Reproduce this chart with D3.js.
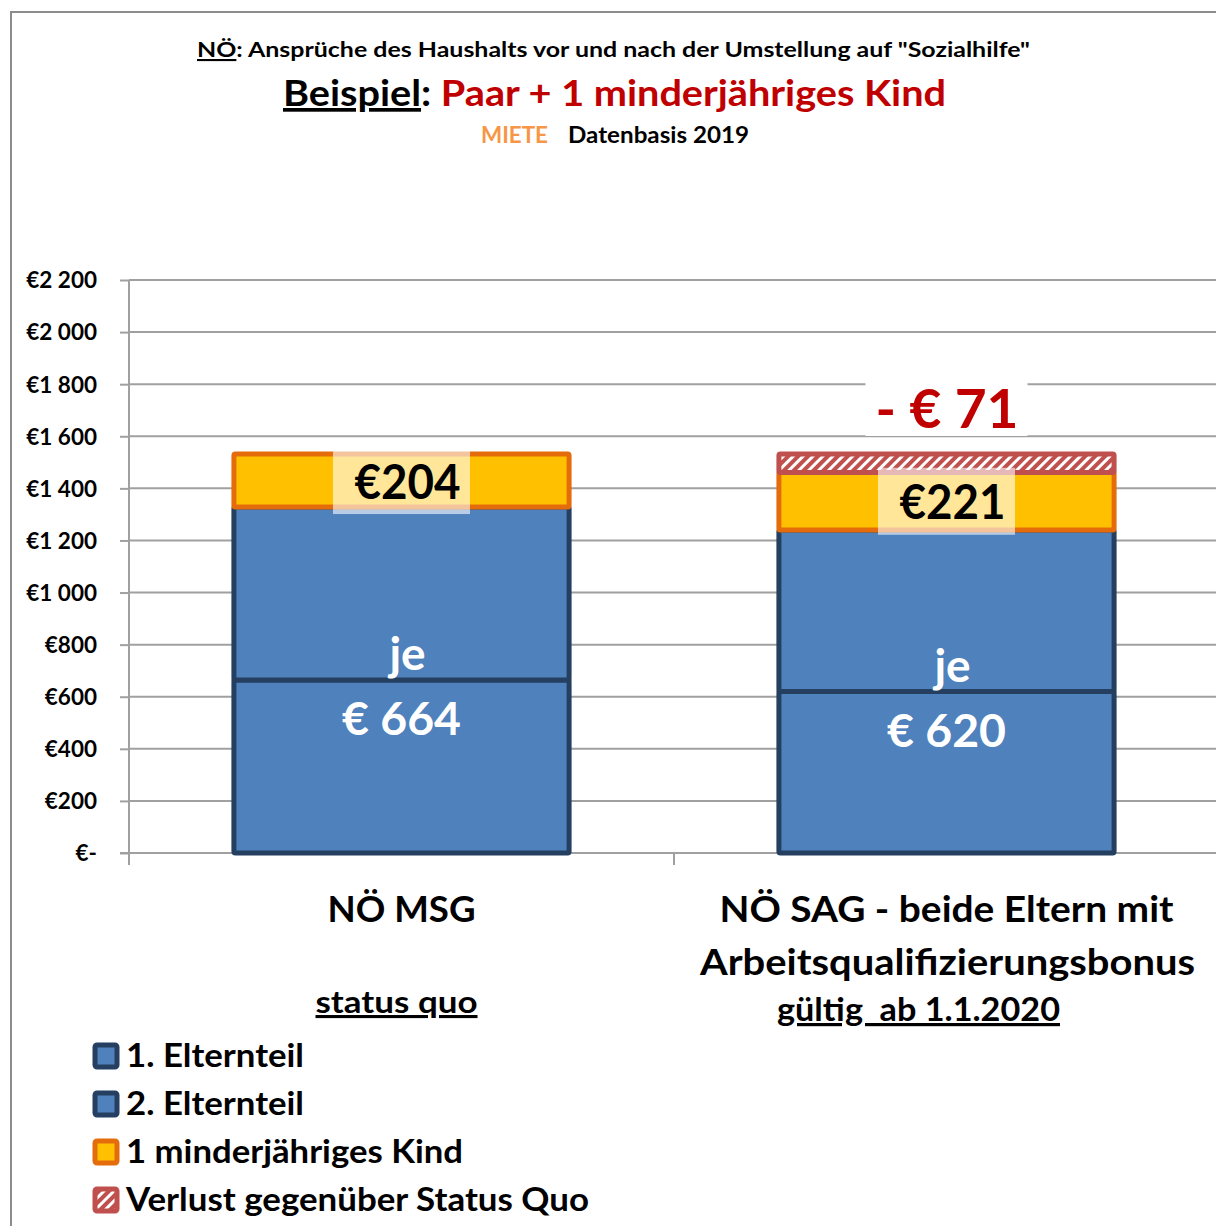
<!DOCTYPE html>
<html>
<head>
<meta charset="utf-8">
<script src="https://cdn.jsdelivr.net/npm/d3@7"></script>
<style>
  body { margin: 0; background: #fff; }
  svg text { font-family: Lato, "Open Sans", sans-serif; font-weight: bold; }
</style>
</head>
<body>
<div id="chart"></div>
<script>
// values
const categories = ["NÖ MSG", "NÖ SAG"];
const parent1 = [664, 620];
const parent2 = [664, 620];
const child = [204, 221];
const loss = [0, 71];
const lossLabels = ["", "- € 71"];
const yTicks = [0, 200, 400, 600, 800, 1000, 1200, 1400, 1600, 1800, 2000, 2200];
const legendLabels = ["1. Elternteil", "2. Elternteil", "1 minderjähriges Kind", "Verlust gegenüber Status Quo"];

const W = 1216, H = 1226;
const BLUE = "#4f81bd", NAVY = "#243f60", GOLD = "#ffc000", ORANGE = "#e46c0a", RED = "#c0504d";

const rows = categories.map((c, i) => ({
  cat: c, p1: parent1[i], p2: parent2[i], kid: child[i], loss: loss[i]
}));
const keys = ["p1", "p2", "kid", "loss"];
const fills = { p1: BLUE, p2: BLUE, kid: GOLD, loss: "url(#hatch)" };
const strokes = { p1: NAVY, p2: NAVY, kid: ORANGE, loss: RED };

const svg = d3.select("#chart").append("svg")
    .attr("width", W).attr("height", H);

const defs = svg.append("defs");
const pat = defs.append("pattern")
    .attr("id", "hatch")
    .attr("patternUnits", "userSpaceOnUse")
    .attr("width", 7).attr("height", 7)
    .attr("patternTransform", "rotate(45)");
pat.append("rect").attr("width", 7).attr("height", 7).attr("fill", RED);
pat.append("rect").attr("x", 0).attr("width", 3).attr("height", 7).attr("fill", "#fff");

// outer frame of the chart area
svg.append("rect")
    .attr("x", 11).attr("y", 12)
    .attr("width", W + 20).attr("height", H + 20)
    .attr("fill", "none").attr("stroke", "#8c8c8c").attr("stroke-width", 2);

const x = d3.scaleBand().domain(categories).range([129, 1219]).padding(0);
const y = d3.scaleLinear().domain([0, 2200]).range([853, 280]);
const barW = x.bandwidth() * 0.615;

const fit = (sel, w) => sel.attr("textLength", w).attr("lengthAdjust", "spacingAndGlyphs");

// gridlines
svg.append("g").selectAll("line")
    .data(yTicks.filter(d => d > 0))
    .join("line")
    .attr("x1", 129).attr("x2", W)
    .attr("y1", d => y(d)).attr("y2", d => y(d))
    .attr("stroke", "#a0a0a0").attr("stroke-width", 2);

// y axis
const loc = d3.formatLocale({ decimal: ",", thousands: " ", grouping: [3], currency: ["€", ""] });
const fmt = loc.format("$,");
const yAxis = d3.axisLeft(y).tickValues(yTicks).tickSize(9).tickPadding(23)
    .tickFormat(d => d === 0 ? "€-" : fmt(d));
const gy = svg.append("g").attr("transform", "translate(129,0)").call(yAxis);
gy.select(".domain").remove();
gy.selectAll(".tick line").attr("stroke", "#a0a0a0").attr("stroke-width", 2);
gy.selectAll(".tick text").attr("font-size", 22.5).attr("fill", "#000")
    .attr("font-family", "Lato, sans-serif").attr("font-weight", "900").attr("dy", "0.35em");
svg.append("line")
    .attr("x1", 129).attr("x2", 129).attr("y1", y(2200)).attr("y2", y(0) + 12)
    .attr("stroke", "#a0a0a0").attr("stroke-width", 2);

// x axis line and category boundary ticks
svg.append("line")
    .attr("x1", 120).attr("x2", W).attr("y1", y(0)).attr("y2", y(0))
    .attr("stroke", "#a0a0a0").attr("stroke-width", 2);
svg.append("g").selectAll("line")
    .data(categories)
    .join("line")
    .attr("x1", d => x(d)).attr("x2", d => x(d))
    .attr("y1", y(0)).attr("y2", y(0) + 12)
    .attr("stroke", "#a0a0a0").attr("stroke-width", 2);

// stacked bars
const series = d3.stack().keys(keys)(rows);
const bars = svg.append("g");
series.forEach(s => {
  bars.selectAll(null)
    .data(s.filter(d => d[1] - d[0] > 0))
    .join("rect")
    .attr("x", d => x(d.data.cat) + (x.bandwidth() - barW) / 2)
    .attr("width", barW)
    .attr("y", d => y(d[1]))
    .attr("height", d => y(d[0]) - y(d[1]))
    .attr("fill", fills[s.key])
    .attr("stroke", strokes[s.key])
    .attr("stroke-width", 5)
    .attr("rx", 1.5);
});

const cx = d => x(d.cat) + x.bandwidth() / 2;

// "je / € ..." labels for the parents
const pl = svg.append("g").attr("fill", "#fff");
pl.selectAll(".je").data(rows).join("text")
    .attr("x", d => cx(d) + 6).attr("y", d => y(d.p1) - 10)
    .attr("text-anchor", "middle").attr("font-size", 46)
    .text("je");
pl.selectAll(".amt").data(rows).join("text")
    .attr("x", d => cx(d)).attr("y", d => y(d.p1) + 55)
    .attr("text-anchor", "middle").attr("font-size", 46)
    .text(d => "€ " + d.p1)
    .call(fit, 119);

// child amount labels with light box
const kl = svg.append("g");
kl.selectAll("rect").data(rows).join("rect")
    .attr("x", d => cx(d) - 68.5).attr("width", 137)
    .attr("y", d => y(d.p1 + d.p2 + d.kid / 2) - 33.5).attr("height", 67)
    .attr("fill", "#fff").attr("opacity", 0.6);
kl.selectAll("text").data(rows).join("text")
    .attr("x", d => cx(d) + 6).attr("y", d => y(d.p1 + d.p2 + d.kid / 2) + 18)
    .attr("text-anchor", "middle").attr("font-size", 48).attr("fill", "#000")
    .text(d => "€" + d.kid)
    .call(fit, 106);

// loss label above second bar
const ll = svg.append("g");
const lossRows = rows.filter((d, i) => lossLabels[i] !== "");
ll.selectAll("rect").data(lossRows).join("rect")
    .attr("x", d => cx(d) - 81).attr("width", 162)
    .attr("y", d => y(d.p1 + d.p2 + d.kid + d.loss) - 71).attr("height", 53)
    .attr("fill", "#fff");
ll.selectAll("text").data(lossRows).join("text")
    .attr("x", d => cx(d) + 0.5).attr("y", d => y(d.p1 + d.p2 + d.kid + d.loss) - 26)
    .attr("text-anchor", "middle").attr("font-size", 54).attr("fill", "#c00000")
    .text(d => lossLabels[rows.indexOf(d)])
    .call(fit, 143);

// titles
const t1 = svg.append("text").attr("x", 613.5).attr("y", 57)
    .attr("text-anchor", "middle").attr("font-size", 21).attr("fill", "#000");
t1.append("tspan").attr("text-decoration", "underline").text("NÖ");
t1.append("tspan").text(": Ansprüche des Haushalts vor und nach der Umstellung auf \"Sozialhilfe\"");
fit(t1, 833);

const t2 = svg.append("text").attr("x", 614.5).attr("y", 106)
    .attr("text-anchor", "middle").attr("font-size", 37);
t2.append("tspan").attr("fill", "#000").attr("text-decoration", "underline").text("Beispiel");
t2.append("tspan").attr("fill", "#000").text(": ");
t2.append("tspan").attr("fill", "#c00000").text("Paar + 1 minderjähriges Kind");
fit(t2, 663);

svg.append("text").attr("x", 481).attr("y", 143).attr("font-size", 23)
    .attr("fill", "#f79646").text("MIETE").call(fit, 67);
svg.append("text").attr("x", 568).attr("y", 143).attr("font-size", 23)
    .attr("fill", "#000").text("Datenbasis 2019").call(fit, 181);

// category labels
const c1 = x(categories[0]) + x.bandwidth() / 2;
const c2 = x(categories[1]) + x.bandwidth() / 2;
svg.append("text").attr("x", c1).attr("y", 922).attr("text-anchor", "middle")
    .attr("font-size", 36).text("NÖ MSG").call(fit, 148);
svg.append("text").attr("x", c1 - 5).attr("y", 1013).attr("text-anchor", "middle")
    .attr("font-size", 31).attr("text-decoration", "underline").text("status quo").call(fit, 162);
svg.append("text").attr("x", c2).attr("y", 922).attr("text-anchor", "middle")
    .attr("font-size", 36).text("NÖ SAG - beide Eltern mit").call(fit, 454);
svg.append("text").attr("x", c2 + 1).attr("y", 975).attr("text-anchor", "middle")
    .attr("font-size", 36).text("Arbeitsqualifizierungsbonus").call(fit, 495);
svg.append("text").attr("x", c2 - 28).attr("y", 1021).attr("text-anchor", "middle")
    .attr("font-size", 32).attr("text-decoration", "underline")
    .attr("xml:space", "preserve").text("gültig  ab 1.1.2020").call(fit, 283);

// legend
const legW = [178, 178, 337, 463];
const leg = svg.append("g");
const li = leg.selectAll("g").data(keys).join("g")
    .attr("transform", (d, i) => `translate(93,${1056 + i * 48})`);
li.append("rect")
    .attr("x", 2).attr("y", -11).attr("width", 22).attr("height", 22).attr("rx", 2)
    .attr("fill", d => fills[d]).attr("stroke", d => strokes[d]).attr("stroke-width", 5);
li.append("text")
    .attr("x", 33).attr("y", 11).attr("font-size", 32).attr("fill", "#000")
    .text((d, i) => legendLabels[i])
    .each(function(d, i) { fit(d3.select(this), legW[i]); });
</script>
</body>
</html>
